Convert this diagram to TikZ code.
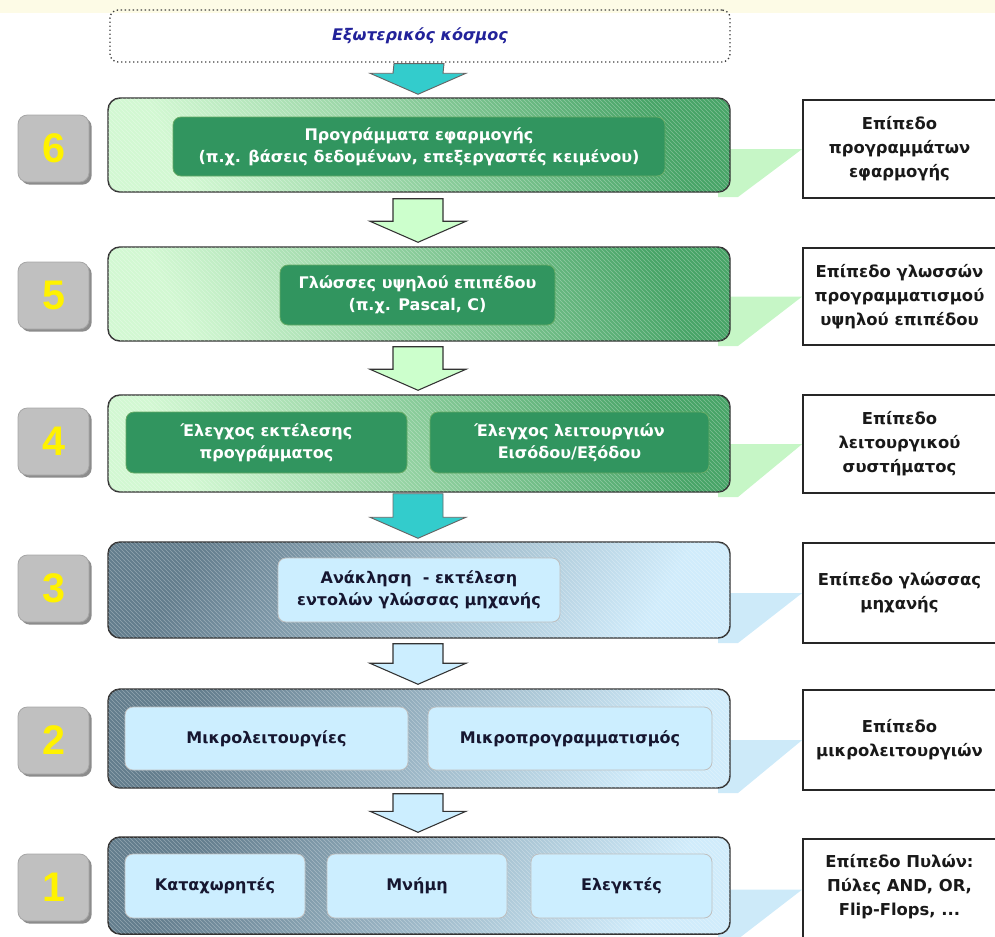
\documentclass[tikz,border=0pt]{standalone}
\usepackage{fontspec}
\setmainfont{DejaVu Sans}
\newfontfamily\digfont{Liberation Sans}
\usetikzlibrary{fit,calc,patterns,shadows}
\definecolor{tealA}{HTML}{33CCCC}
\definecolor{lgreen}{HTML}{CCFFCC}
\definecolor{lblue}{HTML}{CCEEFF}
\definecolor{dgreen}{HTML}{31955F}
\definecolor{gboxc}{HTML}{C0C0C0}
\definecolor{navyc}{HTML}{22229A}
\definecolor{wedgeG}{HTML}{C6F6C6}
\definecolor{wedgeB}{HTML}{CDEAF9}
\definecolor{gdark}{HTML}{47A467}
\definecolor{glight}{HTML}{D2F8D2}
\definecolor{bdark}{HTML}{637D8D}
\definecolor{blight}{HTML}{D0ECFB}
\definecolor{band}{HTML}{FDFBE6}
\definecolor{inkc}{HTML}{161630}
\newcommand\barrow[3]{\draw[#1] ($(#2)+(-25,0)$) -- ($(#2)+(25,0)$) -- ($(#3)+(25,-21)$) -- ($(#3)+(48,-21)$) -- (#3) -- ($(#3)+(-48,-21)$) -- ($(#3)+(-25,-21)$) -- cycle;}
\tikzset{
  hatch/.style={postaction={pattern=north west lines, pattern color=white, opacity=0.3}},
  mainG/.style={draw=black!80, line width=1.1pt, rounded corners=9pt, inner sep=0pt,
    shade, top color=gdark, bottom color=glight, shading angle=-65, hatch},
  mainB/.style={draw=black!80, line width=1.1pt, rounded corners=9pt, inner sep=0pt,
    shade, top color=bdark, bottom color=blight, shading angle=60, hatch},
  innerG/.style={fill=dgreen, draw=green!45!black!60, line width=0.6pt, rounded corners=6pt, inner sep=0pt},
  innerB/.style={fill=lblue, draw=black!25, line width=0.6pt, rounded corners=6pt, inner sep=0pt},
  txtG/.style={text=white, align=center, inner sep=0pt, font=\fontsize{12}{16.5}\selectfont\bfseries},
  txtB/.style={text=inkc, align=center, inner sep=0pt, font=\fontsize{12}{16.5}\selectfont\bfseries},
  labbox/.style={fill=white, draw=black!85, line width=1.2pt, inner sep=0pt},
  labtxt/.style={align=center, inner sep=0pt, text=black!90, font=\fontsize{12.3}{18}\selectfont\bfseries},
  numbox/.style={fill=gboxc, draw=black!35, line width=0.6pt, rounded corners=7pt, inner sep=0pt,
    drop shadow={shadow xshift=2pt, shadow yshift=-2pt, fill=black!45, opacity=1}},
  numtxt/.style={inner sep=0pt, text=yellow, font=\digfont\fontsize{31}{31}\selectfont\bfseries},
  extbox/.style={draw=black!75, dotted, line width=1pt, rounded corners=6pt, inner sep=0pt},
  exttxt/.style={inner sep=0pt, text=navyc, font=\fontsize{12}{14}\selectfont\bfseries\itshape},
  arrowT/.style={fill=tealA, draw=black!60, line width=0.7pt},
  arrowG/.style={fill=lgreen, draw=black!80, line width=0.8pt},
  arrowB/.style={fill=lblue, draw=black!80, line width=0.8pt},
}
\begin{document}
\begin{tikzpicture}[x=0.75pt,y=-0.75pt]
\useasboundingbox (0,0) rectangle (995,936);
\fill[band] (0,0) rectangle (995,13);

% external world
\node[extbox, fit={(110,10) (730,62)}] (ext) {};
\node[exttxt] (extt) at (ext.center) {Εξωτερικός κόσμος};

% label boxes
\node[labbox, fit={(803,100) (996,198)}] (l6) {};
\node[labbox, fit={(803,248) (996,345)}] (l5) {};
\node[labbox, fit={(803,395) (996,493)}] (l4) {};
\node[labbox, fit={(803,543) (996,643)}] (l3) {};
\node[labbox, fit={(803,690) (996,790)}] (l2) {};
\node[labbox, fit={(803,839) (996,940)}] (l1) {};
\node[labtxt] (l6t) at (l6.center) {Επίπεδο\\προγραμμάτων\\εφαρμογής};
\node[labtxt] (l5t) at (l5.center) {Επίπεδο γλωσσών\\προγραμματισμού\\υψηλού επιπέδου};
\node[labtxt] (l4t) at (l4.center) {Επίπεδο\\λειτουργικού\\συστήματος};
\node[labtxt] (l3t) at (l3.center) {Επίπεδο γλώσσας\\μηχανής};
\node[labtxt] (l2t) at (l2.center) {Επίπεδο\\μικρολειτουργιών};
\node[labtxt] (l1t) at ($(l1.center)+(0,-3)$) {Επίπεδο Πυλών:\\Πύλες AND, OR,\\Flip-Flops, ...};

% main box corners
\path (108,98) coordinate (m6a) (730,192) coordinate (m6b)
      (108,247) coordinate (m5a) (730,341) coordinate (m5b)
      (108,395) coordinate (m4a) (730,492) coordinate (m4b)
      (108,542) coordinate (m3a) (730,638) coordinate (m3b)
      (108,689) coordinate (m2a) (730,788) coordinate (m2b)
      (108,837) coordinate (m1a) (730,934) coordinate (m1b);

% wedges behind main boxes
\foreach \i/\c in {6/wedgeG,5/wedgeG,4/wedgeG,3/wedgeB,2/wedgeB,1/wedgeB}{
  \fill[\c] ($(m\i b|-l\i.west)+(-12,0)$) -- (l\i.west) -- ($(m\i b)+(8,5)$) -- ($(m\i b)+(-12,5)$) -- cycle;
}

% level 6
\node[mainG, fit=(m6a)(m6b)] (m6) {};
\node[innerG, fit={(173,117) (665,176)}] (i6) {};
\node[txtG] (i6t) at (i6.center) {Προγράμματα εφαρμογής\\(π.χ. βάσεις δεδομένων, επεξεργαστές κειμένου)};
\node[numbox, fit={(18,115) (89,182)}] (n6) {};
\node[numtxt] (n6t) at (n6.center) {6};

% level 5
\node[mainG, fit=(m5a)(m5b)] (m5) {};
\node[innerG, fit={(280,265) (555,325)}] (i5) {};
\node[txtG] (i5t) at (i5.center) {Γλώσσες υψηλού επιπέδου\\(π.χ. Pascal, C)};
\node[numbox, fit={(18,262) (89,329)}] (n5) {};
\node[numtxt] (n5t) at (n5.center) {5};

% level 4
\node[mainG, fit=(m4a)(m4b)] (m4) {};
\node[innerG, fit={(126,412) (407,473)}] (i4a) {};
\node[innerG, fit={(430,412) (709,473)}] (i4b) {};
\node[txtG] (i4at) at (i4a.center) {Έλεγχος εκτέλεσης\\προγράμματος};
\node[txtG] (i4bt) at (i4b.center) {Έλεγχος λειτουργιών\\Εισόδου/Εξόδου};
\node[numbox, fit={(18,408) (89,475)}] (n4) {};
\node[numtxt] (n4t) at (n4.center) {4};

% level 3
\node[mainB, fit=(m3a)(m3b)] (m3) {};
\node[innerB, fit={(278,558) (560,622)}] (i3) {};
\node[txtB] (i3t) at (i3.center) {Ανάκληση \ - εκτέλεση\\εντολών γλώσσας μηχανής};
\node[numbox, fit={(18,555) (89,622)}] (n3) {};
\node[numtxt] (n3t) at (n3.center) {3};

% level 2
\node[mainB, fit=(m2a)(m2b)] (m2) {};
\node[innerB, fit={(125,707) (408,770)}] (i2a) {};
\node[innerB, fit={(428,707) (712,770)}] (i2b) {};
\node[txtB] (i2at) at (i2a.center) {Μικρολειτουργίες};
\node[txtB] (i2bt) at (i2b.center) {Μικροπρογραμματισμός};
\node[numbox, fit={(18,707) (89,774)}] (n2) {};
\node[numtxt] (n2t) at (n2.center) {2};

% level 1
\node[mainB, fit=(m1a)(m1b)] (m1) {};
\node[innerB, fit={(125,854) (305,918)}] (i1a) {};
\node[innerB, fit={(327,854) (507,918)}] (i1b) {};
\node[innerB, fit={(531,854) (712,918)}] (i1c) {};
\node[txtB] (i1at) at (i1a.center) {Καταχωρητές};
\node[txtB] (i1bt) at (i1b.center) {Μνήμη};
\node[txtB] (i1ct) at (i1c.center) {Ελεγκτές};
\node[numbox, fit={(18,854) (89,921)}] (n1) {};
\node[numtxt] (n1t) at (n1.center) {1};

% block arrows
\coordinate (a1t) at ($(ext.south)+(-1,1)$);  \coordinate (a1b) at ($(m6.north)+(-1,-3)$);
\coordinate (a2t) at ($(m6.south)+(-1,6)$);   \coordinate (a2b) at ($(m5.north)+(-1,-4)$);
\coordinate (a3t) at ($(m5.south)+(-1,5)$);   \coordinate (a3b) at ($(m4.north)+(-1,-4)$);
\coordinate (a4t) at ($(m4.south)+(-1,1)$);   \coordinate (a4b) at ($(m3.north)+(-1,-3)$);
\coordinate (a5t) at ($(m3.south)+(-1,5)$);   \coordinate (a5b) at ($(m2.north)+(-1,-4)$);
\coordinate (a6t) at ($(m2.south)+(-1,5)$);   \coordinate (a6b) at ($(m1.north)+(-1,-4)$);
\barrow{arrowT}{a1t}{a1b}
\barrow{arrowG}{a2t}{a2b}
\barrow{arrowG}{a3t}{a3b}
\barrow{arrowT}{a4t}{a4b}
\barrow{arrowB}{a5t}{a5b}
\barrow{arrowB}{a6t}{a6b}
\end{tikzpicture}
\end{document}
